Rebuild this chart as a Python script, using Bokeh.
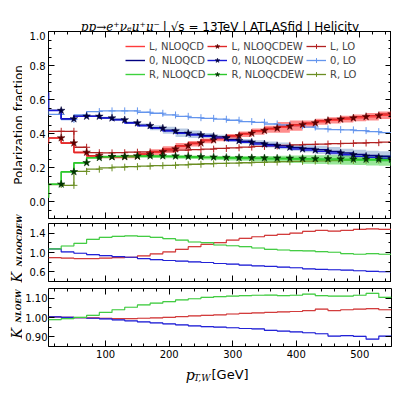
import math
from bokeh.plotting import figure
from bokeh.models import (LinearAxis, SingleIntervalTicker, FixedTicker, Label, Legend,
                          LegendItem, Range1d, NumeralTickFormatter)
from bokeh.layouts import column, row
from bokeh.embed import file_html
from bokeh.resources import INLINE

# ---------------- data ----------------
edges = [10, 30, 50, 70, 90, 110, 130, 150, 170, 190, 210, 230, 250, 270, 290,
         310, 330, 350, 370, 390, 410, 430, 450, 470, 490, 510, 530, 550]

# polarization fractions (first value = start at x=10, then one value per bin)
L_nlo = [0.34, 0.373, 0.343, 0.288, 0.268, 0.262, 0.261, 0.264, 0.277, 0.290, 0.305,
         0.324, 0.340, 0.357, 0.369, 0.382, 0.396, 0.411, 0.425, 0.436, 0.446,
         0.456, 0.469, 0.477, 0.484, 0.492, 0.498, 0.507]
L_ew = [0.34, 0.374, 0.344, 0.289, 0.270, 0.264, 0.263, 0.266, 0.280, 0.293, 0.309,
        0.328, 0.344, 0.362, 0.374, 0.387, 0.401, 0.417, 0.431, 0.442, 0.452,
        0.462, 0.476, 0.484, 0.491, 0.499, 0.505, 0.515]
L_lo = [0.40, 0.413, 0.413, 0.319, 0.287, 0.286, 0.287, 0.290, 0.292, 0.295, 0.298,
        0.302, 0.305, 0.308, 0.312, 0.316, 0.320, 0.324, 0.327, 0.330, 0.333,
        0.336, 0.338, 0.340, 0.342, 0.344, 0.346, 0.349]
Z_nlo = [0.64, 0.536, 0.487, 0.502, 0.502, 0.492, 0.482, 0.464, 0.449, 0.434, 0.419,
         0.405, 0.396, 0.388, 0.380, 0.364, 0.354, 0.345, 0.335, 0.327, 0.318,
         0.312, 0.304, 0.295, 0.285, 0.277, 0.271, 0.266]
Z_ew = [0.642, 0.535, 0.486, 0.501, 0.501, 0.491, 0.480, 0.462, 0.446, 0.431, 0.415,
        0.401, 0.391, 0.383, 0.374, 0.358, 0.348, 0.338, 0.328, 0.319, 0.309,
        0.303, 0.295, 0.285, 0.275, 0.266, 0.260, 0.254]
Z_lo = [0.62, 0.512, 0.482, 0.509, 0.529, 0.533, 0.533, 0.533, 0.525, 0.519, 0.509,
        0.501, 0.493, 0.489, 0.484, 0.478, 0.470, 0.466, 0.456, 0.450, 0.446,
        0.438, 0.427, 0.423, 0.421, 0.417, 0.411, 0.405]
R_nlo = [0.02, 0.101, 0.174, 0.227, 0.257, 0.262, 0.264, 0.265, 0.266, 0.265, 0.264,
         0.262, 0.260, 0.258, 0.256, 0.254, 0.253, 0.252, 0.250, 0.249, 0.248,
         0.247, 0.246, 0.245, 0.244, 0.243, 0.242, 0.241]
R_ew = [0.02, 0.102, 0.175, 0.228, 0.258, 0.263, 0.265, 0.267, 0.268, 0.268, 0.267,
        0.265, 0.263, 0.261, 0.259, 0.258, 0.257, 0.256, 0.255, 0.254, 0.253,
        0.252, 0.251, 0.250, 0.249, 0.248, 0.248, 0.247]
R_lo = [0.03, 0.100, 0.095, 0.177, 0.190, 0.198, 0.202, 0.205, 0.208, 0.211, 0.213,
        0.216, 0.219, 0.222, 0.224, 0.226, 0.228, 0.230, 0.232, 0.234, 0.236,
        0.238, 0.239, 0.241, 0.242, 0.243, 0.244, 0.245]

# uncertainty band half widths per bin
L_band = [0.004, 0.005, 0.006, 0.006, 0.007, 0.008, 0.009, 0.012, 0.018, 0.020,
          0.020, 0.016, 0.014, 0.014, 0.015, 0.016, 0.018, 0.020, 0.032, 0.030,
          0.020, 0.018, 0.018, 0.020, 0.020, 0.022, 0.022]
Z_band = [0.004, 0.004, 0.005, 0.005, 0.006, 0.007, 0.008, 0.010, 0.015, 0.020,
          0.025, 0.022, 0.015, 0.012, 0.012, 0.014, 0.016, 0.018, 0.020, 0.020,
          0.022, 0.024, 0.025, 0.026, 0.028, 0.028, 0.030]
R_band = [0.004, 0.005, 0.006, 0.006, 0.007, 0.007, 0.008, 0.008, 0.009, 0.009,
          0.010, 0.010, 0.011, 0.012, 0.013, 0.014, 0.016, 0.018, 0.020, 0.022,
          0.025, 0.026, 0.027, 0.028, 0.028, 0.030, 0.030]

# K_NLOQCDEW ratios per bin
K1_L = [0.895, 0.882, 0.875, 0.875, 0.882, 0.895, 0.902, 0.929, 0.970, 1.011,
        1.066, 1.120, 1.168, 1.203, 1.258, 1.292, 1.326, 1.354, 1.374, 1.401,
        1.436, 1.456, 1.442, 1.456, 1.477, 1.490, 1.477]
K1_Z = [1.073, 1.011, 0.984, 0.957, 0.936, 0.916, 0.902, 0.875, 0.854, 0.834,
        0.820, 0.807, 0.793, 0.772, 0.759, 0.738, 0.725, 0.711, 0.697, 0.684,
        0.663, 0.649, 0.643, 0.636, 0.622, 0.608, 0.602]
K1_R = [1.073, 1.134, 1.190, 1.272, 1.313, 1.333, 1.346, 1.333, 1.313, 1.286,
        1.258, 1.217, 1.203, 1.155, 1.140, 1.120, 1.093, 1.066, 1.052, 1.039,
        1.032, 1.018, 1.005, 0.977, 0.964, 0.977, 0.964]
# K_NLOEW ratios per bin
K2_L = [1.003, 1.001, 0.999, 0.998, 0.996, 0.994, 0.994, 0.996, 0.998, 1.001,
        1.005, 1.008, 1.011, 1.014, 1.018, 1.021, 1.024, 1.026, 1.029, 1.031,
        1.036, 1.043, 1.036, 1.040, 1.043, 1.046, 1.040]
K2_Z = [1.003, 1.001, 0.999, 0.996, 0.993, 0.988, 0.983, 0.977, 0.972, 0.967,
        0.962, 0.957, 0.953, 0.950, 0.947, 0.943, 0.941, 0.933, 0.930, 0.926,
        0.921, 0.916, 0.904, 0.906, 0.902, 0.888, 0.904]
K2_R = [0.989, 0.994, 1.001, 1.011, 1.026, 1.040, 1.053, 1.065, 1.074, 1.082,
        1.091, 1.097, 1.104, 1.108, 1.111, 1.113, 1.115, 1.116, 1.113, 1.115,
        1.121, 1.113, 1.111, 1.111, 1.115, 1.125, 1.104]
K1_band = 0.012
K2_band = 0.003

x_ticks_interval = 100
k1_ticks = [0.6, 1.0, 1.4]
k1_minor = [0.4, 0.8, 1.2, 1.6]

# ---------------- styles ----------------
C_L_NLO, C_Z_NLO, C_R_NLO = "#ff3b3b", "#000080", "#3dd23d"
C_L_EW, C_Z_EW, C_R_EW = "#e02828", "#1a1ad8", "#2cc82c"
S_L, S_Z, S_R = "#5a0000", "#00003a", "#003300"
C_L_LO, C_Z_LO, C_R_LO = "#b22222", "#6495ed", "#6b8e23"
B_L, B_Z, B_R = "#ff3030", "#4a78b8", "#30d030"
K_L, K_Z, K_R = "#d23c3c", "#2222d6", "#44cc44"

FONT = "DejaVu Sans"
SERIF = "DejaVu Serif"
YLAB_W = 22          # width of the strip holding the y labels
FW, LB, RB = 343, 24, 2
TITLE_H, XLAB_H = 31, 28
COL_W = LB + FW + RB
FRAME_L = YLAB_W + LB            # page x of the plot frames (column aligns frames)


def make_fig(y0, y1, fh, top, bottom):
    p = figure(frame_width=FW, frame_height=fh, x_range=Range1d(10, 550),
               y_range=Range1d(y0, y1), output_backend="svg", toolbar_location=None,
               min_border_left=LB, min_border_right=RB, min_border_top=top,
               min_border_bottom=bottom)
    p.xgrid.visible = False
    p.ygrid.visible = False
    p.outline_line_color = "black"
    p.outline_line_alpha = 1.0
    p.outline_line_width = 1
    p.background_fill_color = "white"
    p.border_fill_color = "white"
    return p


def text_fig(w, h, x0, x1):
    # bare canvas for texts; x in page pixels, y in pixels from the strip bottom
    f = figure(width=w, height=h, x_range=Range1d(x0, x1), y_range=Range1d(0, h),
               x_axis_type=None, y_axis_type=None, output_backend="svg",
               toolbar_location=None, min_border=0)
    f.title.visible = False
    f.xgrid.visible = False
    f.ygrid.visible = False
    f.outline_line_color = None
    f.background_fill_color = "white"
    f.border_fill_color = "white"
    return f


def style_axes(p, yticker, yfmt, xlabels, ystandoff=3):
    xt = SingleIntervalTicker(interval=x_ticks_interval, num_minor_ticks=5)
    bottom_ax = p.below[0]
    left_ax = p.left[0]
    bottom_ax.ticker = xt
    left_ax.ticker = yticker
    left_ax.formatter = NumeralTickFormatter(format=yfmt)
    top_ax = LinearAxis(ticker=xt)
    right_ax = LinearAxis(ticker=yticker)
    p.add_layout(top_ax, "above")
    p.add_layout(right_ax, "right")
    for ax in [bottom_ax, left_ax, top_ax, right_ax]:
        ax.major_tick_in = 6
        ax.major_tick_out = 0
        ax.minor_tick_in = 3
        ax.minor_tick_out = 0
        ax.axis_line_color = None
        ax.major_tick_line_color = "black"
        ax.minor_tick_line_color = "black"
        ax.major_label_text_font = FONT
        ax.major_label_text_font_size = "10px"
        ax.major_label_text_color = "black"
        ax.major_label_standoff = 3
    left_ax.major_label_standoff = ystandoff
    hidden = [top_ax, right_ax]
    if not xlabels:
        hidden.append(bottom_ax)
    for ax in hidden:
        ax.major_label_text_font_size = "0px"
        ax.major_label_standoff = 0
        ax.major_label_text_alpha = 0


def steps_full(vals):
    return [vals[0]] + list(vals)


def txt(f, x, y, text, font, style, size, align="left", baseline="alphabetic", angle=0.0):
    f.add_layout(Label(x=x, y=y, text=text, text_font=font, text_font_style=style,
                       text_font_size=size, text_align=align, text_baseline=baseline,
                       angle=angle, text_color="black"))


# ---------------- top panel ----------------
P1_TOP, P1_BOT = 0, 3
p1 = make_fig(-0.1, 1.0, 187, P1_TOP, P1_BOT)
style_axes(p1, SingleIntervalTicker(interval=0.2, num_minor_ticks=4), "0.0", False)

lefts, rights = edges[:-1], edges[1:]
for vals, hw, col, alpha in [(L_nlo, L_band, B_L, 0.55), (Z_nlo, Z_band, B_Z, 0.38),
                             (R_nlo, R_band, B_R, 0.5)]:
    p1.quad(left=lefts, right=rights,
            bottom=[v - h for v, h in zip(vals[1:], hw)],
            top=[v + h for v, h in zip(vals[1:], hw)],
            fill_color=col, fill_alpha=alpha, line_color=None)

lo_r = {}
for key, vals, col in [("L", L_lo, C_L_LO), ("0", Z_lo, C_Z_LO), ("R", R_lo, C_R_LO)]:
    ln = p1.step(edges, vals, mode="before", line_color=col, line_width=1.3)
    mk = p1.scatter(edges[1:], vals[1:], marker="cross", size=7, line_color=col, line_width=1)
    lo_r[key] = [ln, mk]

nlo_r = {}
for key, vals, col in [("L", L_nlo, C_L_NLO), ("0", Z_nlo, C_Z_NLO), ("R", R_nlo, C_R_NLO)]:
    nlo_r[key] = [p1.step(edges, vals, mode="before", line_color=col, line_width=1.4)]

ew_r = {}
for key, vals, col, sc in [("L", L_ew, C_L_EW, S_L), ("0", Z_ew, C_Z_EW, S_Z),
                           ("R", R_ew, C_R_EW, S_R)]:
    ln = p1.step(edges, vals, mode="before", line_color=col, line_width=1.4)
    mk = p1.scatter(edges[1:], vals[1:], marker="star", size=8, fill_color=sc,
                    line_color=sc, line_width=0.5)
    ew_r[key] = [ln, mk]

items = [
    LegendItem(label="L, NLOQCD", renderers=nlo_r["L"]),
    LegendItem(label="0, NLOQCD", renderers=nlo_r["0"]),
    LegendItem(label="R, NLOQCD", renderers=nlo_r["R"]),
    LegendItem(label="L, NLOQCDEW", renderers=ew_r["L"]),
    LegendItem(label="0, NLOQCDEW", renderers=ew_r["0"]),
    LegendItem(label="R, NLOQCDEW", renderers=ew_r["R"]),
    LegendItem(label="L, LO", renderers=lo_r["L"]),
    LegendItem(label="0, LO", renderers=lo_r["0"]),
    LegendItem(label="R, LO", renderers=lo_r["R"]),
]
legend = Legend(items=items, location=(75, 136), ncols=3, orientation="vertical",
                label_text_font=FONT, label_text_font_size="10px",
                glyph_width=20, glyph_height=12, label_standoff=4, spacing=2,
                padding=2, margin=0, border_line_alpha=0, background_fill_alpha=0,
                label_height=12)
p1.add_layout(legend)

# ---------------- middle panel ----------------
p2 = make_fig(0.4, 1.6, 58, 2, 3)
style_axes(p2, FixedTicker(ticks=k1_ticks, minor_ticks=k1_minor), "0.0", False)
for vals, col in [(K1_L, K_L), (K1_Z, K_Z), (K1_R, K_R)]:
    p2.quad(left=lefts, right=rights, bottom=[v - K1_band for v in vals],
            top=[v + K1_band for v in vals], fill_color=col, fill_alpha=0.3, line_color=None)
    p2.step(edges, steps_full(vals), mode="before", line_color=col, line_width=1.2)

# ---------------- bottom panel ----------------
p3 = make_fig(0.85, 1.15, 58, 4, 15)
style_axes(p3, SingleIntervalTicker(interval=0.1, num_minor_ticks=2), "0.00", True, ystandoff=1)
for vals, col in [(K2_L, K_L), (K2_Z, K_Z), (K2_R, K_R)]:
    p3.quad(left=lefts, right=rights, bottom=[v - K2_band for v in vals],
            top=[v + K2_band for v in vals], fill_color=col, fill_alpha=0.3, line_color=None)
    p3.step(edges, steps_full(vals), mode="before", line_color=col, line_width=1.2)

# ---------------- text strips ----------------
TOTAL_H = TITLE_H + (P1_TOP + 187 + P1_BOT) + (2 + 58 + 3) + (4 + 58 + 15) + XLAB_H
XLAB_TOP = TOTAL_H - XLAB_H

title_f = text_fig(COL_W, TITLE_H, FRAME_L, FRAME_L + FW)
txt(title_f, 158, TITLE_H - 26, "pp\u2192e\u207a\u03bd\u2091\u03bc\u207a\u03bc\u207b", SERIF,
    "italic", "12px", align="right")
txt(title_f, 161, TITLE_H - 26, "| \u221as = 13TeV | ATLASfid | Helicity", FONT, "normal", "12px")

xlab_f = text_fig(COL_W, XLAB_H, FRAME_L, FRAME_L + FW)
txt(xlab_f, 184, TOTAL_H - 374, "p", SERIF, "italic", "14px")
txt(xlab_f, 192, TOTAL_H - 377, "T,W", SERIF, "italic", "9px")
txt(xlab_f, 210, TOTAL_H - 374, "[GeV]", FONT, "normal", "13px")

ylab_f = text_fig(YLAB_W, TOTAL_H, 0, YLAB_W)
txt(ylab_f, 18, TOTAL_H - 124.5, "Polarization fraction", FONT, "normal", "12px",
    align="center", angle=math.pi / 2)
txt(ylab_f, 16.5, TOTAL_H - 282, "K", SERIF, "italic", "14px", angle=math.pi / 2)
txt(ylab_f, 18.5, TOTAL_H - 266, "NLOQCDEW", SERIF, "bold italic", "7.5px", angle=math.pi / 2)
txt(ylab_f, 16, TOTAL_H - 338, "K", SERIF, "italic", "14px", angle=math.pi / 2)
txt(ylab_f, 18, TOTAL_H - 322, "NLOEW", SERIF, "bold italic", "7.5px", angle=math.pi / 2)

layout = row(ylab_f, column(title_f, p1, p2, p3, xlab_f, spacing=0), spacing=0)
open("out.html", "w").write(file_html(layout, INLINE))
